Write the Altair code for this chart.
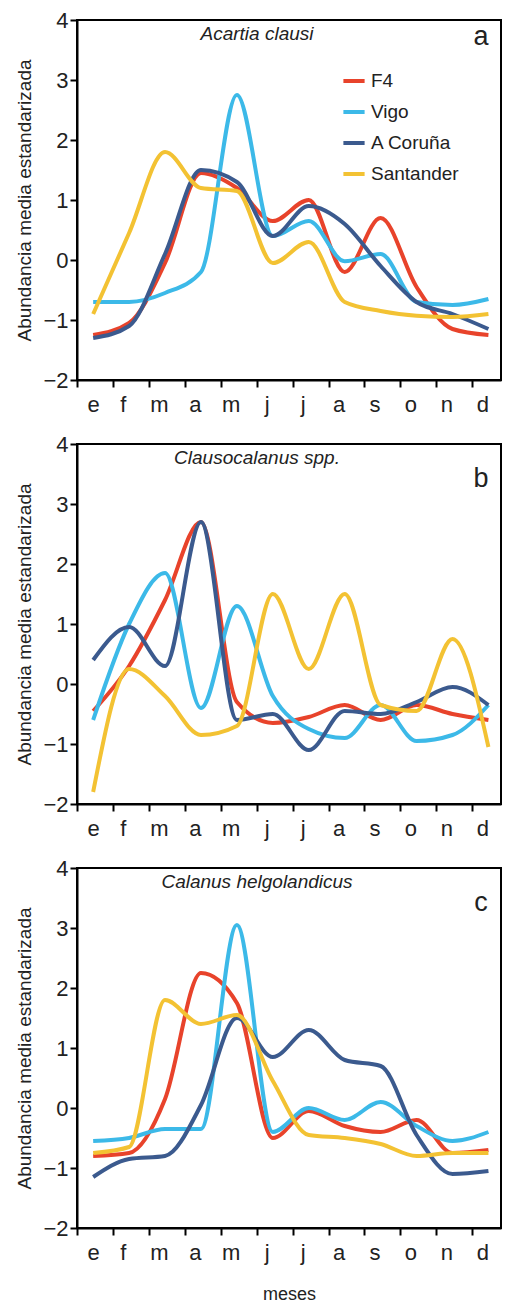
import pandas as pd
import altair as alt

months = ["e", "f", "m", "a", "m", "j", "j", "a", "s", "o", "n", "d"]
stations = ["F4", "Vigo", "A Coruña", "Santander"]
colors = ["#e8432b", "#3cb9e8", "#3b5a8e", "#f3c233"]

# panel a: Acartia clausi
a_f4 = [-1.25, -1.05, -0.05, 1.45, 1.2, 0.65, 1.0, -0.2, 0.7, -0.45, -1.15, -1.25]
a_vigo = [-0.7, -0.7, -0.55, -0.2, 2.75, 0.4, 0.65, -0.02, 0.1, -0.7, -0.75, -0.65]
a_cor = [-1.3, -1.1, 0.1, 1.5, 1.3, 0.4, 0.9, 0.6, -0.1, -0.7, -0.9, -1.15]
a_san = [-0.9, 0.45, 1.8, 1.2, 1.15, -0.05, 0.3, -0.7, -0.85, -0.93, -0.95, -0.9]

# panel b: Clausocalanus spp.
b_f4 = [-0.45, 0.3, 1.4, 2.7, -0.3, -0.65, -0.55, -0.35, -0.6, -0.35, -0.5, -0.6]
b_vigo = [-0.6, 1.0, 1.85, -0.4, 1.3, -0.2, -0.75, -0.9, -0.35, -0.95, -0.85, -0.35]
b_cor = [0.4, 0.95, 0.3, 2.7, -0.6, -0.5, -1.1, -0.45, -0.5, -0.3, -0.05, -0.35]
b_san = [-1.8, 0.25, -0.2, -0.85, -0.7, 1.5, 0.25, 1.5, -0.35, -0.45, 0.75, -1.05]

# panel c: Calanus helgolandicus
c_f4 = [-0.8, -0.75, 0.15, 2.25, 1.75, -0.5, -0.05, -0.3, -0.4, -0.2, -0.75, -0.7]
c_vigo = [-0.55, -0.5, -0.35, -0.35, 3.05, -0.4, 0.0, -0.2, 0.1, -0.3, -0.55, -0.4]
c_cor = [-1.15, -0.85, -0.8, 0.05, 1.5, 0.85, 1.3, 0.8, 0.7, -0.45, -1.1, -1.05]
c_san = [-0.75, -0.65, 1.8, 1.4, 1.55, 0.45, -0.45, -0.5, -0.6, -0.8, -0.75, -0.75]

FONT = "Liberation Sans"
label_expr = "[" + ",".join("'%s'" % m for m in months) + "][datum.value]"


def frame(series):
    rows = []
    for st, vals in zip(stations, series):
        for i, v in enumerate(vals):
            rows.append({"mes": i + 0.45, "valor": v, "estacion": st, "orden": i})
    return pd.DataFrame(rows)


def panel(series, species, letter, legend, xtitle):
    df = frame(series)
    lines = alt.Chart(df).mark_line(strokeWidth=4, interpolate="monotone").encode(
        x=alt.X("mes:Q", scale=alt.Scale(domain=[0, 11.8], nice=False),
                axis=alt.Axis(values=list(range(12)), labelExpr=label_expr,
                              labelOffset=10, labelPadding=7, grid=False,
                              title=xtitle if xtitle else None, titlePadding=22,
                              titleFontWeight="normal", titleFontSize=18)),
        y=alt.Y("valor:Q", scale=alt.Scale(domain=[-2, 4], nice=False),
                axis=alt.Axis(values=list(range(-2, 5)), grid=False,
                              labelExpr="format(datum.value, 'd')",
                              title="Abundancia media estandarizada", titlePadding=8,
                              titleFontWeight="normal", titleFontSize=19)),
        color=alt.Color("estacion:N", sort=stations,
                        scale=alt.Scale(domain=stations, range=colors),
                        legend=alt.Legend(orient="none", legendX=264, legendY=48,
                                          title=None, symbolType="stroke",
                                          symbolStrokeWidth=4, symbolSize=450,
                                          labelFontSize=19, rowPadding=8,
                                          labelFont=FONT, labelColor="#222") if legend else None),
        order="orden:Q",
    )
    one = pd.DataFrame({"t": [species], "l": [letter]})
    sp = alt.Chart(one).mark_text(font=FONT, fontSize=19, fontStyle="italic",
                                  align="center", baseline="top", color="#222").encode(
        x=alt.value(180), y=alt.value(5), text="t:N")
    lt = alt.Chart(one).mark_text(font=FONT, fontSize=27, align="center",
                                  baseline="top", color="#222").encode(
        x=alt.value(404), y=alt.value(4 if letter == "a" else 22), text="l:N")
    return alt.layer(lines, sp, lt).properties(width=424, height=360)


chart = alt.vconcat(
    panel([a_f4, a_vigo, a_cor, a_san], "Acartia clausi", "a", True, None),
    panel([b_f4, b_vigo, b_cor, b_san], "Clausocalanus  spp.", "b", False, None),
    panel([c_f4, c_vigo, c_cor, c_san], "Calanus  helgolandicus", "c", False, "meses"),
    spacing=16,
).properties(padding={"left": 6, "top": 0, "right": 0, "bottom": 0}).configure_view(
    stroke="black", strokeWidth=2
).configure_axis(
    domainColor="black", domainWidth=2, tickColor="black", tickWidth=2, tickSize=7,
    labelFont=FONT, titleFont=FONT, labelFontSize=22, labelColor="#222",
    titleColor="#222",
)

chart.save("out.html", embed_options={"renderer": "svg", "actions": False})
